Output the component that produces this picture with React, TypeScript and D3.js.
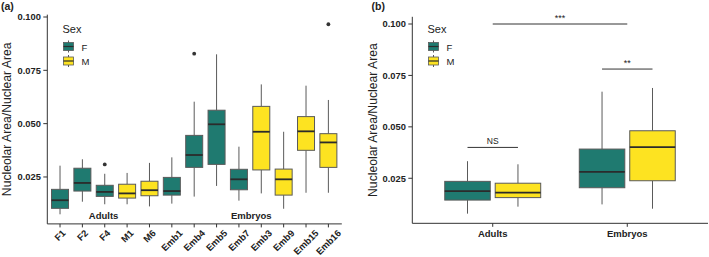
import React from "react";
import * as d3 from "d3";

// Panel (a): per-individual boxplots
const catsA = ["F1", "F2", "F4", "M1", "M6", "Emb1", "Emb4", "Emb5", "Emb7", "Emb3", "Emb9", "Emb15", "Emb16"];
const sexA = ["F", "F", "F", "M", "M", "F", "F", "F", "F", "M", "M", "M", "M"];
const loA = [0.0075, 0.0134, 0.0122, 0.0122, 0.0112, 0.0125, 0.0158, 0.0208, 0.0139, 0.0173, 0.0101, 0.0176, 0.0176];
const q1A = [0.0103, 0.0184, 0.0159, 0.0151, 0.0162, 0.0165, 0.0295, 0.0309, 0.0190, 0.0283, 0.0165, 0.0375, 0.0295];
const medA = [0.0141, 0.0222, 0.0180, 0.0173, 0.0188, 0.0184, 0.0353, 0.0497, 0.0239, 0.0462, 0.0239, 0.0464, 0.0412];
const q3A = [0.0192, 0.0291, 0.0211, 0.0216, 0.0230, 0.0248, 0.0445, 0.0563, 0.0286, 0.0581, 0.0287, 0.0533, 0.0453];
const hiA = [0.0303, 0.0333, 0.0265, 0.0269, 0.0316, 0.0342, 0.0603, 0.0825, 0.0392, 0.0684, 0.0462, 0.0678, 0.0611];
const outliersA: [number, number][] = [[2, 0.0309], [6, 0.0828], [12, 0.0966]];
const groupLabelsA: [string, number][] = [["Adults", 1.95], ["Embryos", 8.55]];

// Panel (b): grouped by stage and sex
const catsB = ["Adults", "Embryos"];
const sexes = ["F", "M"];
const loB = [[0.0078, 0.0112], [0.0123, 0.0102]];
const q1B = [[0.0144, 0.0156], [0.0204, 0.0238]];
const medB = [[0.0188, 0.0180], [0.0281, 0.0401]];
const q3B = [[0.0235, 0.0226], [0.0392, 0.0481]];
const hiB = [[0.0333, 0.0318], [0.0671, 0.0689]];
const sigLabels = ["***", "**", "NS"];
const sigY = [0.1, 0.0781, 0.0400];

const yTicks = [0.025, 0.05, 0.075, 0.1];
const colors: Record<string, string> = { F: "#1F7A70", M: "#FDE321" };

const FONT = "Liberation Sans, Arial, Helvetica, sans-serif";
const OUT = "#5a5a5a";
const MED = "#2b2b2b";
const TICK_FS = 9.4;

let ctx: CanvasRenderingContext2D | null = null;
function measure(t: string, fs: number, weight = "bold") {
  if (typeof document !== "undefined") {
    if (!ctx) ctx = document.createElement("canvas").getContext("2d");
    if (ctx) {
      ctx.font = `${weight} ${fs}px "Liberation Sans", Arial, sans-serif`;
      return ctx.measureText(t).width;
    }
  }
  return t.length * fs * 0.6;
}

function Box({ cx, w, lo, q1, med, q3, hi, y, fill }: any) {
  return (
    <g>
      <line x1={cx} x2={cx} y1={y(hi)} y2={y(q3)} stroke={OUT} strokeWidth={1} />
      <line x1={cx} x2={cx} y1={y(q1)} y2={y(lo)} stroke={OUT} strokeWidth={1} />
      <rect x={cx - w / 2} y={y(q3)} width={w} height={y(q1) - y(q3)} fill={fill} stroke={OUT} strokeWidth={1} />
      <line x1={cx - w / 2} x2={cx + w / 2} y1={y(med)} y2={y(med)} stroke={MED} strokeWidth={1.8} />
    </g>
  );
}

function Legend({ x0 }: { x0: number }) {
  return (
    <g fontFamily={FONT}>
      <text x={x0 - 1} y={32.5} fontSize={11} fill="#222">Sex</text>
      {sexes.map((s, i) => {
        const top = 42.5 + i * 14.5;
        return (
          <g key={s}>
            <line x1={x0 + 5} x2={x0 + 5} y1={top - 2} y2={top + 10} stroke={OUT} strokeWidth={1} />
            <rect x={x0} y={top} width={10} height={8} fill={colors[s]} stroke={OUT} strokeWidth={0.8} />
            <line x1={x0} x2={x0 + 10} y1={top + 4} y2={top + 4} stroke={MED} strokeWidth={1.2} />
            <text x={x0 + 18} y={top + 8} fontSize={9.5} fill="#222">{s}</text>
          </g>
        );
      })}
    </g>
  );
}

function YAxis({ x, y, domain }: any) {
  const [a, b] = domain;
  return (
    <g fontFamily={FONT}>
      <line x1={x} x2={x} y1={y(b)} y2={y(a)} stroke="#333" strokeWidth={1} />
      {yTicks.map((t) => (
        <g key={t}>
          <line x1={x - 4} x2={x} y1={y(t)} y2={y(t)} stroke="#333" strokeWidth={1} />
          <text x={x - 6.5} y={y(t)} dy="0.35em" textAnchor="end" fontSize={9.3} fontWeight="bold" fill="#222">
            {d3.format(".3f")(t)}
          </text>
        </g>
      ))}
    </g>
  );
}

export default function App() {
  // panel (a)
  const domA: [number, number] = [0.003, 0.1011];
  const yA = d3.scaleLinear().domain([0, 0.1]).range([230.3, 17]);
  const xA = d3.scaleLinear().domain([-0.6, catsA.length - 0.4]).range([46.6, 341.8]);
  const bwA = 17;

  // panel (b)
  const domB: [number, number] = [0.0031, 0.1035];
  const yB = d3.scaleLinear().domain([0, 0.1]).range([229.7, 24]);
  const xB = d3.scaleLinear().domain([-0.6, catsB.length - 0.4]).range([412, 708]);
  const dodge = d3.scaleBand().domain(sexes).range([-0.375, 0.375]);
  const bwB = 45.5;
  const cxB = (g: number, s: string) => xB(g + (dodge(s) as number) + dodge.bandwidth() / 2);

  const axisTitle = "Nucleolar Area/Nuclear Area";
  const capH = TICK_FS * 0.716;

  return (
    <svg width={709} height={257} style={{ display: "block", position: "absolute", left: 0, top: 0 }}>
      <rect width={709} height={257} fill="#fff" />
      {/* Panel a */}
      <text x={1} y={9.5} fontFamily={FONT} fontSize={10.5} fontWeight="bold" fill="#222">(a)</text>
      <text transform={`translate(11,${(yA(domA[0]) + yA(domA[1])) / 2}) rotate(-90)`} textAnchor="middle"
        fontFamily={FONT} fontSize={12.2} fill="#222">{axisTitle}</text>
      <YAxis x={47.3} y={yA} domain={domA} />
      <line x1={47.3} x2={341.8} y1={yA(domA[0])} y2={yA(domA[0])} stroke="#333" strokeWidth={1} />
      {catsA.map((c, i) => {
        const L = measure(c, TICK_FS);
        const tx = xA(i) + 0.7071 * (L - capH) / 2;
        return (
          <g key={c}>
            <line x1={xA(i)} x2={xA(i)} y1={yA(domA[0])} y2={yA(domA[0]) + 3.5} stroke="#333" />
            <text transform={`translate(${tx},229) rotate(-45)`} dy="0.72em" textAnchor="end"
              fontFamily={FONT} fontSize={TICK_FS} fontWeight="bold" fill="#222">{c}</text>
            <Box cx={xA(i)} w={bwA} lo={loA[i]} q1={q1A[i]} med={medA[i]} q3={q3A[i]} hi={hiA[i]} y={yA} fill={colors[sexA[i]]} />
          </g>
        );
      })}
      {outliersA.map(([i, v], k) => (
        <circle key={k} cx={xA(i)} cy={yA(v)} r={1.9} fill="#333" />
      ))}
      {groupLabelsA.map(([t, p]) => (
        <text key={t} x={xA(p)} y={219} textAnchor="middle" fontFamily={FONT} fontSize={9.5} fontWeight="bold" fill="#222">{t}</text>
      ))}
      <Legend x0={63.5} />

      {/* Panel b */}
      <text x={371.5} y={9.5} fontFamily={FONT} fontSize={10.5} fontWeight="bold" fill="#222">(b)</text>
      <text transform={`translate(376.7,${(yB(domB[0]) + yB(domB[1])) / 2}) rotate(-90)`} textAnchor="middle"
        fontFamily={FONT} fontSize={12.2} fill="#222">{axisTitle}</text>
      <YAxis x={412.3} y={yB} domain={domB} />
      <line x1={412.3} x2={708} y1={yB(domB[0])} y2={yB(domB[0])} stroke="#333" strokeWidth={1} />
      {catsB.map((c, g) => (
        <g key={c}>
          <line x1={xB(g)} x2={xB(g)} y1={yB(domB[0])} y2={yB(domB[0]) + 3.5} stroke="#333" />
          <text x={xB(g)} y={237} textAnchor="middle" fontFamily={FONT} fontSize={9.5} fontWeight="bold" fill="#222">{c}</text>
          {sexes.map((s, k) => (
            <Box key={s} cx={cxB(g, s)} w={bwB} lo={loB[g][k]} q1={q1B[g][k]} med={medB[g][k]} q3={q3B[g][k]} hi={hiB[g][k]} y={yB} fill={colors[s]} />
          ))}
        </g>
      ))}
      {/* significance brackets */}
      {[
        [xB(0), xB(1)],
        [cxB(1, "F"), cxB(1, "M")],
        [cxB(0, "F"), cxB(0, "M")],
      ].map(([a, b], k) => (
        <g key={k} fontFamily={FONT}>
          <line x1={a} x2={b} y1={yB(sigY[k])} y2={yB(sigY[k])} stroke="#333" strokeWidth={1} />
          <text x={(a + b) / 2} y={yB(sigY[k]) - 3} textAnchor="middle" fontSize={k === 2 ? 8.5 : 9} fill="#222">{sigLabels[k]}</text>
        </g>
      ))}
      <Legend x0={428.5} />
    </svg>
  );
}
